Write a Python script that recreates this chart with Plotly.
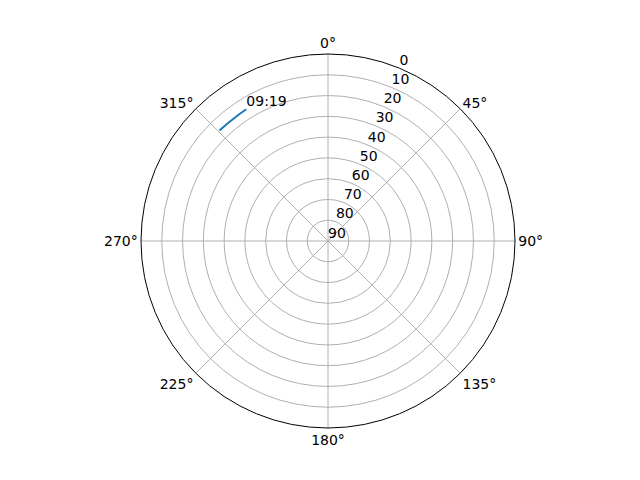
import plotly.graph_objects as go

# satellite sky track (azimuth in degrees, elevation in degrees)
azimuth = [315.5, 319.0, 322.0, 325.0, 328.2]
elevation = [15.5, 15.6, 15.6, 15.5, 15.4]
pass_label = "09:19"

# radial ticks: elevation, 0 on the rim, 90 at the zenith
elev_ticks = [0, 10, 20, 30, 40, 50, 60, 70, 80, 90]
az_ticks = [0, 45, 90, 135, 180, 225, 270, 315]

# plot distance from zenith so the rim is the horizon
r_track = [90 - e for e in elevation]
r_ticks = [90 - e for e in elev_ticks]

fig = go.Figure()

# the track
fig.add_trace(go.Scatterpolar(
    r=r_track, theta=azimuth, mode='lines',
    line=dict(color='#1f77b4', width=2), hoverinfo='skip'
))

# time label at the end of the pass
fig.add_trace(go.Scatterpolar(
    r=[r_track[-1]], theta=[azimuth[-1]], mode='text',
    text=[pass_label], textposition='top right',
    textfont=dict(size=14, color='black'), hoverinfo='skip'
))

# radial labels along 22.5 deg, like matplotlib does it
fig.add_trace(go.Scatterpolar(
    r=r_ticks, theta=[22.5] * len(r_ticks), mode='text',
    text=[str(e) for e in elev_ticks], textposition='top right',
    textfont=dict(size=14, color='black'), hoverinfo='skip'
))

# page body has an 8px margin, so the domain is shifted to compensate
cx, cy, rad = 320, 233, 187
fig.update_layout(
    width=640, height=480,
    margin=dict(l=0, r=0, t=0, b=0),
    paper_bgcolor='white',
    showlegend=False,
    font=dict(family='DejaVu Sans', size=14, color='black'),
    polar=dict(
        domain=dict(x=[(cx - rad) / 640, (cx + rad) / 640],
                    y=[(480 - cy - rad) / 480, (480 - cy + rad) / 480]),
        bgcolor='white',
        angularaxis=dict(
            rotation=90, direction='clockwise',
            tickvals=az_ticks, ticktext=[f'{a}°' for a in az_ticks],
            ticks='', showline=True, linecolor='black', linewidth=1,
            gridcolor='#b0b0b0', gridwidth=1,
        ),
        radialaxis=dict(
            range=[0, 90], tickvals=r_ticks[:-1], showticklabels=False,
            ticks='', showline=False, gridcolor='#b0b0b0', gridwidth=1,
        ),
    ),
)

fig.write_html("out.html")
